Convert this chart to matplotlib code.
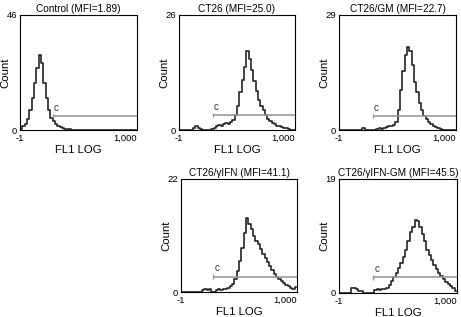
import numpy as np
import matplotlib
matplotlib.use('Agg')
import matplotlib.pyplot as plt

plt.rcParams['font.family'] = ['Liberation Sans Narrow', 'Liberation Sans', 'DejaVu Sans']

# FL1 log axis, 50 channels spanning the 4 decades (-1 .. 1,000)
n_bins = 50
bin_pos = np.linspace(-1, 3, n_bins + 1)[:-1] + 2.0 / n_bins

titles = ["Control (MFI=1.89)", "CT26 (MFI=25.0)", "CT26/GM (MFI=22.7)",
          "CT26/\u03b3IFN (MFI=41.1)", "CT26/\u03b3IFN-GM (MFI=45.5)"]
y_max = [46, 26, 29, 22, 19]

control = [0.5, 1.5, 2.5, 4.5, 8, 13, 19, 25, 30, 27, 19, 13, 8, 5, 3.5, 2.5, 1.5,
           1.2, 0.8, 0.6, 0.4, 0.3, 0.2, 0, 0, 0, 0, 0, 0, 0, 0, 0, 0, 0, 0, 0, 0,
           0, 0, 0, 0, 0, 0, 0, 0, 0, 0, 0, 0, 0]
ct26 = [0, 0, 0, 0, 0, 0, 0.5, 0.8, 0.5, 0.3, 0, 0, 0, 0, 0.2, 0.4, 0.9, 1.1, 0.8,
        1.3, 1.5, 1.4, 1.8, 2.3, 3.4, 5.5, 8.5, 11.3, 14.3, 17.8, 16.0, 13.5, 11,
        8.8, 6.8, 5.5, 4.6, 3.5, 2.6, 2, 1.6, 1.3, 1, 0.8, 0.6, 0.5, 0.4, 0.2, 0, 0]
ct26_gm = [0, 0, 0, 0, 0, 0, 0, 0, 0, 0, 0.4, 0, 0, 0, 0, 0, 0.3, 0.4, 0.3, 0.5,
           0.8, 0.9, 1, 1.3, 2.1, 5, 10, 15, 19, 21, 20, 16.5, 12, 9.5, 6.8, 5,
           3.6, 2.8, 2, 1.5, 1, 0.7, 0.5, 0.3, 0, 0, 0, 0, 0, 0]
ct26_ifn = [0, 0, 0, 0, 0, 0, 0, 0, 0, 0.4, 0.5, 0.3, 0.5, 0, 0, 0.4, 0.5, 0.4,
            0.5, 0.6, 0.8, 1.1, 1.5, 2.5, 4, 6, 8.5, 11.5, 14.4, 13.2, 12.2, 11,
            10, 9.4, 8.4, 7.4, 6.6, 5.8, 5, 4.2, 3.6, 3, 2.6, 2.1, 1.7, 1.4, 1.1,
            0.8, 0.5, 1]
ct26_ifn_gm = [0, 0, 0, 0, 0, 0.8, 0.9, 0.7, 0.3, 0.4, 0, 0, 0, 0, 0, 0.5, 0.6,
               0.5, 0.6, 0.7, 0.9, 1.4, 2, 2.6, 3.3, 4.2, 5, 6, 7.2, 8.6, 10.2, 11,
               12.2, 12, 11, 9.8, 8.7, 7.2, 6.3, 5.5, 4.7, 4, 3.4, 2.9, 2.3, 1.9,
               1.5, 1.2, 0.8, 0.4]
counts = [control, ct26, ct26_gm, ct26_ifn, ct26_ifn_gm]

# marker "c" gate: start (log decade) and height (count)
gate_start = [0.12, 0.16, 0.16, 0.12, 0.16]
gate_level = [5.6, 3.4, 3.5, 3.0, 2.6]

# axes boxes in pixels: left, right, top, bottom
W, H = 461, 317
boxes = [(20, 137, 15, 130), (179, 295, 15, 130), (339, 456, 15, 130),
         (181, 297, 179, 292), (339, 457, 179, 293)]

fig = plt.figure(figsize=(W / 100, H / 100), dpi=100)

for i in range(5):
    l, r, t, b = boxes[i]
    ax = fig.add_axes([l / W, 1 - b / H, (r - l) / W, (b - t) / H])
    ax.plot(bin_pos, counts[i], drawstyle='steps-mid', color='#262626', lw=1.2)
    ax.hlines(gate_level[i], gate_start[i], 3, color='#9a9a9a', lw=1.2)
    ax.vlines(gate_start[i], gate_level[i] - y_max[i] * 0.02,
              gate_level[i] + y_max[i] * 0.02, color='#9a9a9a', lw=1)
    ax.text(gate_start[i] + 0.12, gate_level[i] + y_max[i] * 0.03, 'c',
            fontsize=7, ha='center', va='bottom', color='#333333')
    ax.set_xlim(-1, 3)
    ax.set_ylim(0, y_max[i])
    ax.set_xticks([-1, 3])
    ax.set_xticklabels(['-1', '1,000'], fontsize=6.8)
    ax.get_xticklabels()[1].set_ha('right')
    ax.set_yticks([0, y_max[i]])
    ax.set_yticklabels(['0', str(y_max[i])], fontsize=6.8)
    ax.tick_params(axis='x', length=0, pad=3)
    ax.tick_params(axis='y', length=0, pad=2)
    ax.set_xlabel('FL1 LOG', fontsize=8.2, labelpad=1)
    ax.set_ylabel('Count', fontsize=8.2)
    ax.yaxis.set_label_coords(-9.5 / (r - l), 0.5)
    ax.set_title(titles[i], fontsize=7.2, pad=2.5)
    for s in ax.spines.values():
        s.set_linewidth(0.8)

fig.savefig('out.png', dpi=100)
